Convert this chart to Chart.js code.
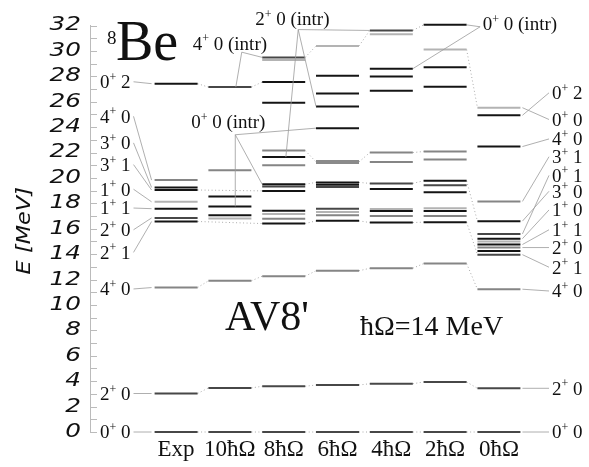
<!DOCTYPE html>
<html>
<head>
<meta charset="utf-8">
<script src="https://cdn.jsdelivr.net/npm/chart.js@4.4.1/dist/chart.umd.min.js"></script>
<style>
  html, body { margin: 0; background: #fff; }
  #wrap { width: 589px; height: 467px; }
</style>
</head>
<body>
<div id="wrap"><canvas id="levels"></canvas></div>
<script>
// columns of the level scheme
const columns = ['Exp', '10ħΩ', '8ħΩ', '6ħΩ', '4ħΩ', '2ħΩ', '0ħΩ'];

// level energies (MeV), low to high
const levelsExp = [0, 3.03, 11.37, 16.57, 16.85, 17.58, 18.12, 19.05, 19.25, 19.83, 27.42];
const levels10 = [0, 3.47, 11.9, 16.80, 17.06, 17.76, 18.54, 20.6, 27.15];
const levels8 = [0, 3.6, 12.27, 16.41, 16.78, 17.17, 17.42, 18.98, 19.32, 19.50, 20.99, 21.64, 22.16, 25.92, 27.55, 29.28, 29.49];
const levels6 = [0, 3.7, 12.69, 16.62, 17.06, 17.32, 17.58, 19.29, 19.47, 19.65, 21.26, 23.92, 25.63, 26.64, 28.04, 30.39];
const levels4 = [0, 3.8, 12.89, 16.49, 17.01, 17.40, 17.55, 19.13, 19.57, 21.26, 22.0, 26.87, 27.99, 28.6, 31.32, 31.61];
const levels2 = [0, 3.94, 13.26, 16.52, 17.01, 17.40, 17.61, 18.87, 19.42, 19.78, 21.46, 22.08, 27.18, 28.71, 30.11, 32.05];
const levels0 = [0, 3.44, 11.24, 13.96, 14.24, 14.52, 14.76, 14.99, 15.22, 15.59, 16.6, 18.15, 22.47, 24.93, 25.53];

// state labels beside the Exp and 0ħΩ columns: text, where the text sits, which level it points to
const leftLabels = ['0+ 2', '4+ 0', '3+ 0', '3+ 1', '1+ 0', '1+ 1', '2+ 0', '2+ 1', '4+ 0', '2+ 0', '0+ 0'];
const leftLabelE = [27.57, 24.85, 22.76, 21.05, 19.11, 17.63, 15.92, 14.14, 11.26, 3.03, 0];
const leftLevelE = [27.42, 19.83, 19.25, 19.05, 18.12, 17.58, 16.85, 16.57, 11.37, 3.03, 0];

const rightLabels = ['0+ 2', '0+ 0', '4+ 0', '3+ 1', '0+ 1', '3+ 0', '1+ 0', '1+ 1', '2+ 0', '2+ 1', '4+ 0', '2+ 0', '0+ 0'];
const rightLabelE = [26.7, 24.6, 23.07, 21.67, 20.2, 18.95, 17.48, 15.92, 14.52, 12.97, 11.1, 3.44, 0];
const rightLevelE = [24.93, 25.53, 22.47, 18.15, 15.59, 16.6, 15.22, 14.76, 14.52, 13.96, 11.24, 3.44, 0];

// intruder-state labels: text position [column, MeV], hub of the leaders, levels they point to [column, MeV, side]
const intrLabels = [
  { text: '4+ 0 (intr)', at: [1.0, 30.6], hub: [1.22, 29.9], to: [[1, 27.15, 0.11], [2, 29.49, -1]] },
  { text: '2+ 0 (intr)', at: [2.16, 32.5], hub: [2.27, 31.68], to: [[2, 21.64, 0.04], [3, 25.63, -1], [4, 31.61, -1]] },
  { text: '0+ 0 (intr)', at: [0.97, 24.4], hub: [1.1, 23.4], to: [[1, 17.76, 0.1], [2, 19.50, -1], [3, 23.92, -1]] },
  { text: '0+ 0 (intr)', at: [6.39, 32.1], hub: [5.65, 31.9], to: [[5, 32.05, 1], [4, 28.6, 1]] }
];

// dotted links between columns: [from column, MeV, to column, MeV]
const links = [
  [0, 27.42, 1, 27.15], [1, 27.15, 2, 27.55],
  [0, 19.05, 2, 18.98], [0, 16.57, 2, 16.41],
  [2, 29.49, 3, 30.39], [2, 22.16, 3, 21.26], [2, 19.50, 3, 19.65], [2, 16.41, 3, 16.62],
  [3, 30.39, 4, 31.61], [3, 21.26, 4, 22.0], [3, 19.65, 4, 19.57], [3, 16.62, 4, 16.49],
  [4, 31.61, 5, 32.05], [4, 22.0, 5, 22.08], [4, 19.57, 5, 19.78], [4, 16.49, 5, 16.52],
  [5, 30.11, 6, 25.53], [5, 19.78, 6, 16.6], [5, 16.52, 6, 13.96]
];

// ---- styles ----
const columnLevels = [levelsExp, levels10, levels8, levels6, levels4, levels2, levels0];
const columnTones = [
  'ddgkdklkkgk',
  'ddglkkkgd',
  'ddgkglkkdkgkgkkld',
  'ddgkgldd' + 'kkGkkkkl',
  'ddgkgklkdggkkkld',
  'ddgkgklkdkggkklk',
  'ddgdkgklkdkgkkl'
];
const TONE = { k: ['#141414', 2], d: ['#474747', 2], g: ['#858585', 2], l: ['#b3b3b3', 2], G: ['#8a8a8a', 4] };
const HALF = 21.5;   // half length of a level line in px
const SERIF = '"Liberation Serif", serif';
const AXISFONT = '"DejaVu Sans", sans-serif';

// "0+ 2" with the parity as a superscript
function stateText(ctx, s, px, py, align, size) {
  const i = s.indexOf('+');
  const head = s.slice(0, i), tail = s.slice(i + 1);
  const big = size + 'px ' + SERIF, small = Math.round(size * 0.62) + 'px ' + SERIF;
  ctx.font = big;
  const w1 = ctx.measureText(head).width, w3 = ctx.measureText(tail).width;
  ctx.font = small;
  const w2 = ctx.measureText('+').width;
  const tot = w1 + w2 + w3;
  const x0 = align === 'right' ? px - tot : align === 'center' ? px - tot / 2 : px;
  const base = py + size * 0.33;
  ctx.textAlign = 'left';
  ctx.textBaseline = 'alphabetic';
  ctx.fillStyle = '#111';
  ctx.font = big;
  ctx.fillText(head, x0, base);
  ctx.font = small;
  ctx.fillText('+', x0 + w1, base - size * 0.38);
  ctx.font = big;
  ctx.fillText(tail, x0 + w1 + w2, base);
  return { left: x0, right: x0 + tot };
}

function leader(ctx, x1, y1, x2, y2) {
  ctx.beginPath();
  ctx.moveTo(x1, y1);
  ctx.lineTo(x2, y2);
  ctx.stroke();
}

const decoPlugin = {
  id: 'levelDeco',
  beforeDatasetsDraw(chart) {
    const { ctx, scales: { x, y } } = chart;
    ctx.save();
    // dotted links
    ctx.strokeStyle = '#aaa';
    ctx.lineWidth = 1;
    ctx.setLineDash([1, 2.5]);
    const links0 = [];
    for (let c = 0; c < columns.length - 1; c++) {
      for (let k = 0; k < 3; k++) links0.push([c, columnLevels[c][k], c + 1, columnLevels[c + 1][k]]);
    }
    links0.concat(links).forEach(([a, ea, b, eb]) => {
      leader(ctx, x.getPixelForValue(a) + HALF, y.getPixelForValue(ea),
        x.getPixelForValue(b) - HALF, y.getPixelForValue(eb));
    });
    ctx.setLineDash([]);
    // minor ticks on the energy axis
    ctx.strokeStyle = '#bbb';
    for (let v = y.min; v <= y.max; v++) {
      const py = Math.round(y.getPixelForValue(v)) + 0.5;
      leader(ctx, x.left, py, x.left + 7, py);
    }
    ctx.restore();
  },
  afterDatasetsDraw(chart) {
    const { ctx, scales: { x, y } } = chart;
    ctx.save();
    ctx.strokeStyle = '#9a9a9a';
    ctx.lineWidth = 0.8;

    // energy tick labels, wide italic
    y.ticks.forEach(t => {
      ctx.save();
      ctx.translate(x.left - 9, y.getPixelForValue(t.value));
      ctx.scale(1.3, 1);
      ctx.font = 'italic 19px ' + AXISFONT;
      ctx.fillStyle = '#111';
      ctx.textAlign = 'right';
      ctx.textBaseline = 'middle';
      ctx.fillText(String(t.value), 0, 0);
      ctx.restore();
    });
    // axis title
    ctx.save();
    ctx.translate(25, (y.top + y.bottom) / 2 + 2);
    ctx.rotate(-Math.PI / 2);
    ctx.scale(1.18, 1);
    ctx.font = 'italic 19px ' + AXISFONT;
    ctx.fillStyle = '#111';
    ctx.textAlign = 'center';
    ctx.textBaseline = 'middle';
    ctx.fillText('E [MeV]', 0, 0);
    ctx.restore();

    // labels left of Exp
    const expLeft = x.getPixelForValue(0) - HALF;
    leftLabels.forEach((s, i) => {
      const py = y.getPixelForValue(leftLabelE[i]);
      const r = stateText(ctx, s, 100, py, 'left', 19);
      leader(ctx, r.right + 3, py, expLeft - 3, y.getPixelForValue(leftLevelE[i]));
    });
    // labels right of 0ħΩ
    const zeroRight = x.getPixelForValue(6) + HALF;
    rightLabels.forEach((s, i) => {
      const py = y.getPixelForValue(rightLabelE[i]);
      const r = stateText(ctx, s, 552, py, 'left', 19);
      leader(ctx, zeroRight + 2, y.getPixelForValue(rightLevelE[i]), r.left - 3, py);
    });
    // intruder labels
    intrLabels.forEach(lab => {
      stateText(ctx, lab.text, x.getPixelForValue(lab.at[0]), y.getPixelForValue(lab.at[1]), 'center', 19);
      const hx = x.getPixelForValue(lab.hub[0]), hy = y.getPixelForValue(lab.hub[1]);
      lab.to.forEach(([c, e, side]) => {
        const px = side === -1 ? x.getPixelForValue(c) - HALF
          : side === 1 ? x.getPixelForValue(c) + HALF
          : x.getPixelForValue(c + side);
        leader(ctx, hx, hy, px, y.getPixelForValue(e));
      });
    });

    // titles
    ctx.fillStyle = '#111';
    ctx.textAlign = 'left';
    ctx.textBaseline = 'alphabetic';
    ctx.font = '19px ' + SERIF;
    ctx.fillText('8', 107, 44);
    ctx.font = '56px ' + SERIF;
    ctx.fillText('Be', 116, 60);
    ctx.font = '42px ' + SERIF;
    ctx.fillText("AV8'", 225, 330);
    ctx.font = '28px ' + SERIF;
    ctx.fillText('ħΩ=14 MeV', 360, 335);
    ctx.restore();
  }
};

new Chart(document.getElementById('levels'), {
  type: 'scatter',
  data: {
    datasets: columns.map((name, i) => ({
      label: name,
      data: columnLevels[i].map(e => ({ x: i, y: e })),
      pointStyle: 'line',
      pointRadius: HALF,
      pointHoverRadius: HALF,
      pointBorderColor: columnTones[i].split('').map(t => TONE[t][0]),
      pointBorderWidth: columnTones[i].split('').map(t => TONE[t][1]),
      showLine: false,
      clip: false
    }))
  },
  options: {
    responsive: true,
    maintainAspectRatio: false,
    animation: false,
    events: [],
    layout: { padding: { left: 0, right: 11, top: 20, bottom: 0 } },
    plugins: { legend: { display: false }, tooltip: { enabled: false } },
    scales: {
      x: {
        type: 'linear',
        min: -1.6,
        max: 7.2,
        afterBuildTicks: s => { s.ticks = columns.map((c, i) => ({ value: i })); },
        afterFit: s => { s.height = 35; },
        ticks: {
          callback: v => columns[v],
          autoSkip: false,
          maxRotation: 0,
          padding: 4,
          color: '#111',
          font: { family: SERIF, size: 23 }
        },
        grid: { display: false, drawTicks: false },
        border: { display: false }
      },
      y: {
        min: 0,
        max: 32,
        afterFit: s => { s.width = 90; },
        ticks: { stepSize: 2, display: false },
        grid: { display: false, drawTicks: false },
        border: { display: true, color: '#bbb', width: 1 }
      }
    }
  },
  plugins: [decoPlugin]
});
</script>
</body>
</html>
